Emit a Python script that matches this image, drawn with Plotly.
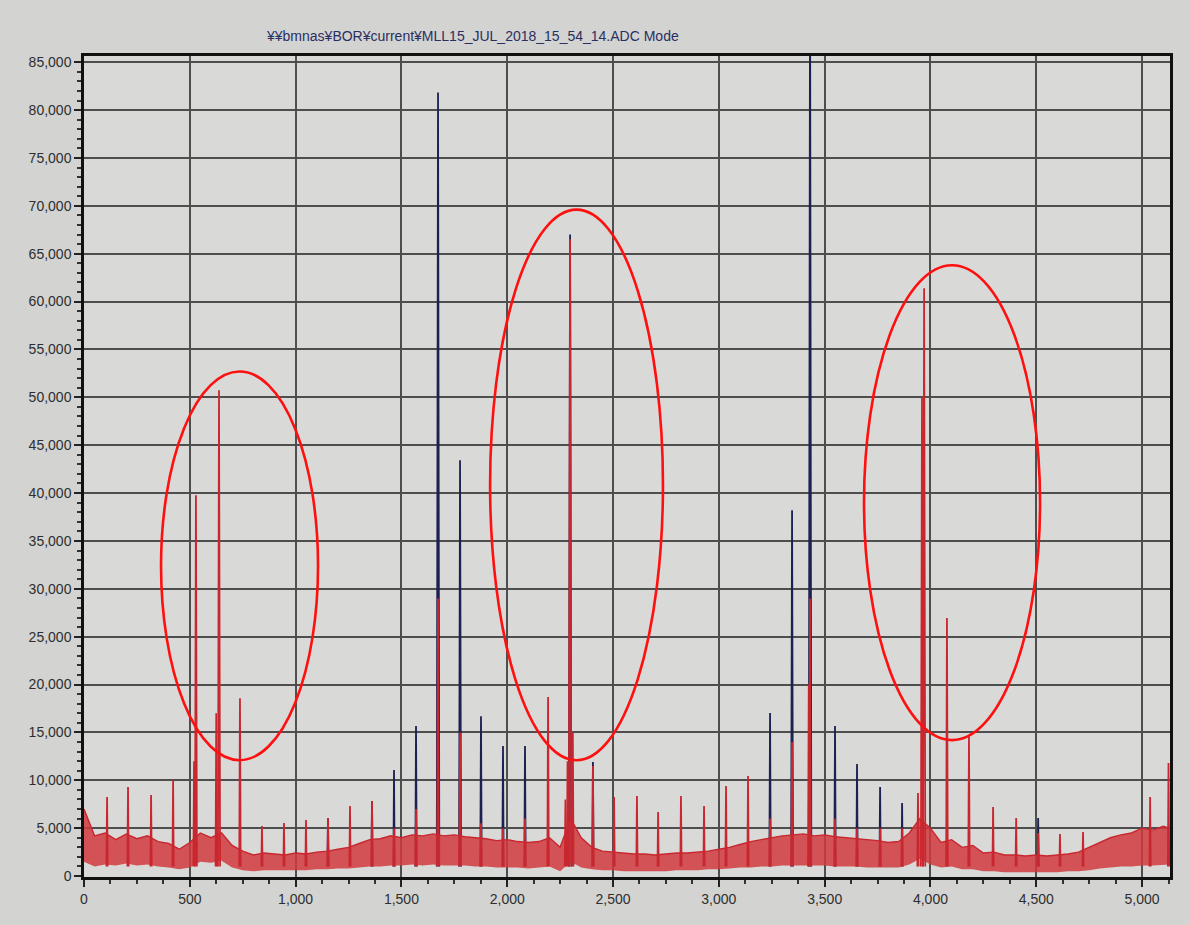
import plotly.graph_objects as go

TITLE = "¥¥bmnas¥BOR¥current¥MLL15_JUL_2018_15_54_14.ADC Mode"

# ---- noise band (channel -> counts) ----
noise_channels = [0, 50, 100, 150, 200, 250, 300, 350, 400, 450, 500, 550, 600, 650, 700,
                  750, 800, 850, 900, 950, 1000, 1050, 1100, 1150, 1200, 1250, 1300, 1350,
                  1400, 1450, 1500, 1550, 1600, 1650, 1700, 1750, 1800, 1850, 1900, 1950,
                  2000, 2050, 2100, 2150, 2200, 2250, 2300, 2350, 2400, 2450, 2500, 2550,
                  2600, 2650, 2700, 2750, 2800, 2850, 2900, 2950, 3000, 3050, 3100, 3150,
                  3200, 3250, 3300, 3350, 3400, 3450, 3500, 3550, 3600, 3650, 3700, 3750,
                  3800, 3850, 3900, 3950, 4000, 4050, 4100, 4150, 4200, 4250, 4300, 4350,
                  4400, 4450, 4500, 4550, 4600, 4650, 4700, 4750, 4800, 4850, 4900, 4950,
                  5000, 5050, 5100, 5130]
noise_upper = [7000, 4200, 4500, 3800, 4400, 3900, 4200, 3600, 3400, 2800, 3500, 4500, 4000,
               4500, 3200, 2600, 2200, 2400, 2300, 2200, 2400, 2300, 2500, 2600, 2800, 3000,
               3400, 3800, 3900, 4200, 4000, 4300, 4200, 4400, 4200, 4300, 4100, 4000, 3900,
               3700, 3800, 3600, 3500, 3600, 4000, 3000, 6000, 4000, 3000, 2600, 2500, 2400,
               2300, 2300, 2200, 2300, 2400, 2400, 2500, 2600, 2800, 3000, 3300, 3600, 3800,
               4000, 4200, 4300, 4400, 4200, 4300, 4100, 4000, 3900, 3800, 3700, 3500, 3600,
               4500, 6000, 5000, 3500, 3800, 3000, 3200, 2400, 2500, 2200, 2200, 2100, 2200,
               2100, 2200, 2300, 2500, 3000, 3500, 4000, 4300, 4500, 5000, 4800, 5200, 5000]
noise_lower = [1500, 1000, 1200, 1100, 1300, 1100, 1200, 1000, 900, 700, 900, 1500, 1400,
               1600, 900, 600, 500, 600, 600, 600, 600, 600, 700, 700, 800, 800, 900, 1000,
               1000, 1100, 1100, 1200, 1100, 1200, 1100, 1100, 1100, 1000, 1000, 900, 900,
               900, 800, 900, 1000, 500, 1500, 900, 700, 600, 600, 500, 500, 500, 500, 500,
               600, 600, 600, 700, 700, 800, 900, 900, 1000, 1000, 1100, 1100, 1100, 1100,
               1100, 1000, 1000, 1000, 900, 900, 900, 900, 1200, 1800, 1200, 900, 1000, 700,
               700, 500, 500, 400, 400, 400, 400, 400, 400, 500, 500, 600, 800, 900, 1000,
               1000, 1100, 1100, 1200, 1200]

# ---- red series peaks ----
red_peak_channels = [109, 208, 317, 421, 520, 529, 625, 638, 737, 841, 945, 1049, 1153, 1257,
                     1361, 1465, 1569, 1673, 1777, 1876, 1980, 2084, 2193, 2275, 2285, 2297,
                     2310, 2405, 2505, 2613, 2713, 2821, 2930, 3034, 3138, 3242, 3346, 3425,
                     3431, 3549, 3653, 3762, 3866, 3941, 3960, 3970, 4078, 4182, 4296, 4405,
                     4509, 4612, 4721, 5038, 5125]
red_peak_heights = [8250, 9290, 8460, 10020, 12000, 39780, 17000, 50740, 18580, 5220, 5530,
                    5850, 6060, 7310, 7830, 5000, 7000, 29000, 15000, 5500, 5000, 6000, 18690,
                    8000, 12000, 66500, 15000, 11500, 8250, 8350, 6680, 8350, 7310, 9400,
                    10440, 6000, 14000, 20000, 29000, 6000, 5000, 5000, 5000, 8670, 50000,
                    61390, 26940, 14510, 7200, 6060, 4500, 4380, 4590, 8250, 11800]

# ---- navy series peaks (visible where they rise above red) ----
blue_peak_channels = [1153, 1361, 1465, 1569, 1673, 1777, 1876, 1980, 2084, 2297, 2405,
                      3242, 3346, 3431, 3549, 3653, 3762, 3866, 4509]
blue_peak_heights = [6060, 7830, 11070, 15660, 81850, 43430, 16700, 13570, 13570, 67000,
                     11900, 17020, 38210, 95000, 15660, 11690, 9290, 7620, 6060]

# ---- highlight ellipses (channel range, count range) ----
highlight_x0 = [364, 1919, 3686]
highlight_x1 = [1106, 2736, 4518]
highlight_y0 = [12100, 12100, 14200]
highlight_y1 = [52700, 69600, 63800]

X_TICKS = [0, 500, 1000, 1500, 2000, 2500, 3000, 3500, 4000, 4500, 5000]
Y_TICKS = list(range(0, 85001, 5000))

RED = "#c9272f"
NAVY = "#1d2152"


def spikes(chs, hs, base=1000):
    xs, ys = [], []
    for c, h in zip(chs, hs):
        w = 2.5 + min(h, 70000) / 20000.0
        xs += [c - w, c, c + w, None]
        ys += [base, h, base, None]
    return xs, ys


fig = go.Figure()

# navy spikes (underneath)
bx, by = spikes(blue_peak_channels, blue_peak_heights)
fig.add_trace(go.Scatter(x=bx, y=by, mode="lines", line=dict(color=NAVY, width=1.8),
                         hoverinfo="skip", showlegend=False))

# red noise band
fig.add_trace(go.Scatter(x=noise_channels, y=noise_lower, mode="lines",
                         line=dict(color=RED, width=0), hoverinfo="skip", showlegend=False))
fig.add_trace(go.Scatter(x=noise_channels, y=noise_upper, mode="lines", fill="tonexty",
                         fillcolor="rgba(208,58,62,0.85)", line=dict(color=RED, width=1.4),
                         hoverinfo="skip", showlegend=False))

# red spikes
rx, ry = spikes(red_peak_channels, red_peak_heights)
fig.add_trace(go.Scatter(x=rx, y=ry, mode="lines", line=dict(color=RED, width=1.8),
                         hoverinfo="skip", showlegend=False))

for x0, x1, y0, y1 in zip(highlight_x0, highlight_x1, highlight_y0, highlight_y1):
    fig.add_shape(type="circle", xref="x", yref="y", x0=x0, x1=x1, y0=y0, y1=y1,
                  line=dict(color="#ff1010", width=2.6), layer="above")

fig.add_annotation(text=TITLE, xref="paper", yref="paper", x=0.358, y=1.024,
                   showarrow=False, xanchor="center", yanchor="middle",
                   font=dict(family="Liberation Sans, Arial", size=14, color="#2a2f62"))

axis_font = dict(family="Liberation Sans, Arial", size=14, color="#2e2e2e")

fig.update_xaxes(range=[0, 5132], tickvals=X_TICKS, tickformat=",d",
                 showgrid=True, gridcolor="#4e4e4e", gridwidth=1.5,
                 showline=True, linecolor="#111111", linewidth=2.5, mirror=True,
                 ticks="outside", ticklen=7, tickcolor="#222222", tickwidth=1.5,
                 tickfont=axis_font, zeroline=False,
                 minor=dict(dtick=125, tick0=0, ticks="outside", ticklen=4,
                            tickcolor="#333333", showgrid=False))
fig.update_yaxes(range=[-100, 85650], tickvals=Y_TICKS, tickformat=",d",
                 showgrid=True, gridcolor="#4e4e4e", gridwidth=1.5,
                 showline=True, linecolor="#111111", linewidth=2.5, mirror=True,
                 ticks="outside", ticklen=7, tickcolor="#222222", tickwidth=1.5,
                 tickfont=axis_font, zeroline=False,
                 minor=dict(dtick=1000, tick0=0, ticks="outside", ticklen=4,
                            tickcolor="#333333", showgrid=False))

fig.update_layout(width=1190, height=925, margin=dict(l=84, r=20, t=56, b=48),
                  paper_bgcolor="#d3d3d1", plot_bgcolor="#d9d9d7", showlegend=False)

fig.write_html("out.html")
